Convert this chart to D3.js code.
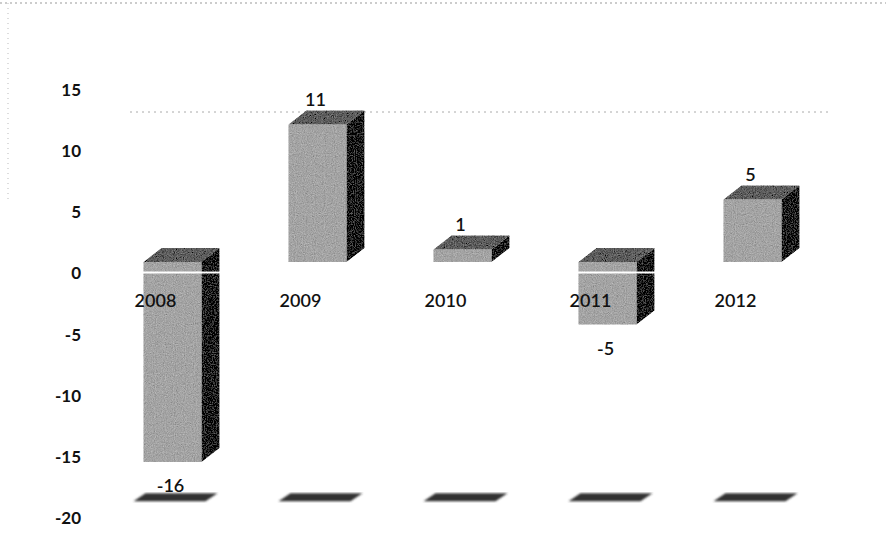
<!DOCTYPE html>
<html>
<head>
<meta charset="utf-8">
<script src="https://cdn.jsdelivr.net/npm/d3@7"></script>
<style>
  body { margin: 0; background: #fff; }
  text { font-family: Lato, "Open Sans", sans-serif; fill: #111; }
</style>
</head>
<body>
<div id="chart"></div>
<script>
// data
var years = ["2008", "2009", "2010", "2011", "2012"];
var values = [-16, 11, 1, -5, 5];
var ticks = [15, 10, 5, 0, -5, -10, -15, -20];

var width = 886, height = 547;
var depth = {dx: 18, dy: -14};

var svg = d3.select("#chart").append("svg")
    .attr("width", width)
    .attr("height", height);

var defs = svg.append("defs");
var grain = defs.append("filter").attr("id", "grain")
    .attr("x", 0).attr("y", 0).attr("width", 1).attr("height", 1);
grain.append("feTurbulence").attr("type", "fractalNoise")
    .attr("baseFrequency", 0.9).attr("numOctaves", 2).attr("seed", 3).attr("result", "n");
grain.append("feColorMatrix").attr("in", "n").attr("type", "matrix")
    .attr("values", "0.33 0.33 0.33 0 0  0.33 0.33 0.33 0 0  0.33 0.33 0.33 0 0  0 0 0 0 1")
    .attr("result", "g");
grain.append("feComposite").attr("in", "SourceGraphic").attr("in2", "g")
    .attr("operator", "arithmetic")
    .attr("k1", 0).attr("k2", 1).attr("k3", 0.6).attr("k4", -0.3).attr("result", "c");
grain.append("feComposite").attr("in", "c").attr("in2", "SourceGraphic").attr("operator", "in");

var blur = defs.append("filter").attr("id", "blur");
blur.append("feGaussianBlur").attr("stdDeviation", 1.1);

// axis scale (labels) and front-plane scale (bars)
var y = d3.scaleLinear().domain([-20, 15]).range([518, 90]);
var yf = d3.scaleLinear().domain([-20, 15]).range([512, 74.5]);
var x = d3.scaleBand().domain(years).range([100, 825])
    .paddingInner(0.6).paddingOuter(0.3);

// faint scan borders
svg.append("line").attr("x1", 0).attr("x2", width).attr("y1", 3).attr("y2", 3)
    .attr("stroke", "#999").attr("stroke-dasharray", "2,3").attr("stroke-width", 1);
svg.append("line").attr("x1", 8).attr("x2", 8).attr("y1", 3).attr("y2", 200)
    .attr("stroke", "#bbb").attr("stroke-dasharray", "1,4").attr("stroke-width", 1);

// back gridline (faint, dotted)
svg.append("line")
    .attr("x1", x.range()[0] + 30).attr("x2", x.range()[1] + 5)
    .attr("y1", yf(12)).attr("y2", yf(12))
    .attr("stroke", "#aaa").attr("stroke-dasharray", "2,4");

// y axis labels
var yAxis = svg.append("g")
    .attr("transform", "translate(81,0)")
    .call(d3.axisLeft(y).tickValues(ticks).tickSize(0).tickPadding(0)
      .tickFormat(function(d) { return String(d); }));
yAxis.select(".domain").remove();
yAxis.selectAll("text")
    .style("font-size", "17px")
    .style("font-weight", "bold")
    .style("font-family", "Lato, sans-serif")
    .attr("fill", "#111");

var data = years.map(function(d, i) { return {year: d, value: values[i]}; });

// floor shadows
svg.selectAll(".shadow")
    .data(data)
  .enter().append("path")
    .attr("class", "shadow")
    .attr("filter", "url(#blur)")
    .attr("fill", "#333")
    .attr("d", function(d) {
      var x0 = x(d.year) - 10, x1 = x(d.year) + x.bandwidth() + 16, yb = y(-18.3);
      return "M" + x0 + "," + (yb + 4) + "L" + (x1 - 12) + "," + (yb + 4) +
             "L" + x1 + "," + (yb - 4) + "L" + (x0 + 12) + "," + (yb - 4) + "Z";
    });

// 3D bars
var bars = svg.selectAll(".bar")
    .data(data)
  .enter().append("g")
    .attr("class", "bar")
    .attr("filter", "url(#grain)");

function barTop(d) { return yf(Math.max(0, d.value)); }
function barBot(d) { return yf(Math.min(0, d.value)); }

bars.append("path")
    .attr("fill", "#1c1c1c")
    .attr("d", function(d) {
      var x1 = x(d.year) + x.bandwidth();
      return "M" + x1 + "," + barTop(d) + "L" + (x1 + depth.dx) + "," + (barTop(d) + depth.dy) +
             "L" + (x1 + depth.dx) + "," + (barBot(d) + depth.dy) + "L" + x1 + "," + barBot(d) + "Z";
    });
bars.append("path")
    .attr("fill", "#5e5e5e")
    .attr("d", function(d) {
      var x0 = x(d.year), x1 = x0 + x.bandwidth();
      return "M" + x0 + "," + barTop(d) + "L" + (x0 + depth.dx) + "," + (barTop(d) + depth.dy) +
             "L" + (x1 + depth.dx) + "," + (barTop(d) + depth.dy) + "L" + x1 + "," + barTop(d) + "Z";
    });
bars.append("rect")
    .attr("fill", "#a4a4a4")
    .attr("x", function(d) { return x(d.year); })
    .attr("y", barTop)
    .attr("width", x.bandwidth())
    .attr("height", function(d) { return Math.max(1, barBot(d) - barTop(d)); });

// white zero axis line drawn over bars
svg.append("line")
    .attr("x1", x.range()[0]).attr("x2", x.range()[1])
    .attr("y1", y(0) - 1).attr("y2", y(0) - 1)
    .attr("stroke", "#fff").attr("stroke-width", 2);

// category labels
svg.selectAll(".cat")
    .data(data)
  .enter().append("text")
    .attr("class", "cat")
    .attr("x", function(d) { return x(d.year) + x.bandwidth() / 2 - 17; })
    .attr("y", y(0) + 34)
    .attr("text-anchor", "middle")
    .style("font-size", "18px")
    .style("font-weight", 600)
    .text(function(d) { return d.year; });

// value labels
svg.selectAll(".val")
    .data(data)
  .enter().append("text")
    .attr("class", "val")
    .attr("x", function(d) { return x(d.year) + x.bandwidth() / 2 - 2; })
    .attr("y", function(d) {
      return d.value >= 0 ? barTop(d) + depth.dy - 5 : barBot(d) + 30;
    })
    .attr("text-anchor", "middle")
    .style("font-size", "18px")
    .style("font-weight", 600)
    .text(function(d) { return d.value; });
</script>
</body>
</html>
